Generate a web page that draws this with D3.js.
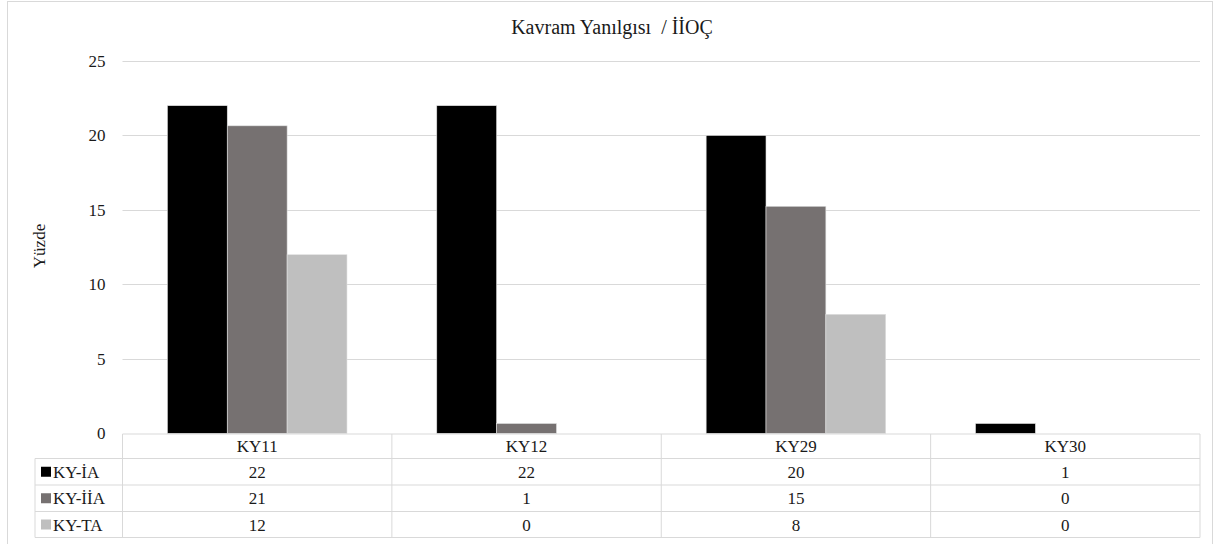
<!DOCTYPE html>
<html><head><meta charset="utf-8">
<script src="https://cdn.jsdelivr.net/npm/d3@7"></script>
<style>body{margin:0;background:#fff}svg{display:block}text{font-family:"Liberation Serif","DejaVu Serif","Noto Serif","Times New Roman",Times,serif;fill:#1a1a1a}</style>
</head><body><svg id="c" width="1218" height="544"></svg>
<script>
const categories = ["KY11","KY12","KY29","KY30"];
const seriesNames = ["KY-İA","KY-İİA","KY-TA"];
const seriesColors = ["#000000","#767171","#BFBFBF"];
const valuesIA  = [22, 22, 20, 0.67];
const valuesIIA = [20.65, 0.67, 15.25, 0];
const valuesTA  = [12, 0, 8, 0];
const tableIA  = ["22","22","20","1"];
const tableIIA = ["21","1","15","0"];
const tableTA  = ["12","0","8","0"];
const yTicks = [0,5,10,15,20,25];
const title = "Kavram Yanılgısı  / İİOÇ";
const yLabel = "Yüzde";

const series = [valuesIA, valuesIIA, valuesTA];
const tableRows = [tableIA, tableIIA, tableTA];

const svg = d3.select("#c");
svg.append("rect").attr("x",7.5).attr("y",1.5).attr("width",1205).attr("height",560)
  .attr("fill","#fff").attr("stroke","#d9d9d9");

const L = 122.5, R = 1200, T = 61, B = 433.5;
const x = d3.scaleBand().domain(categories).range([L,R]);
const y = d3.scaleLinear().domain([0,25]).range([B,T]);
const inner = d3.scaleBand().domain(d3.range(3)).range([0, x.bandwidth()]).paddingOuter(0.75).paddingInner(0);

svg.append("text").attr("x",612).attr("y",34).attr("text-anchor","middle")
  .style("font-size","20px").style("white-space","pre").text(title);

svg.append("g").selectAll("line").data(yTicks.filter(d=>d>0)).join("line")
  .attr("x1",L).attr("x2",R).attr("y1",d=>Math.round(y(d))+0.5).attr("y2",d=>Math.round(y(d))+0.5)
  .attr("stroke","#d9d9d9").attr("stroke-width",1);

const yAxis = d3.axisLeft(y).tickValues(yTicks).tickSize(0).tickPadding(17);
const ga = svg.append("g").attr("transform",`translate(${L},0)`).call(yAxis);
ga.select(".domain").remove();
ga.attr("font-family",null).attr("font-size",null);
ga.selectAll("text").style("font-size","17px").attr("fill","#1a1a1a");

svg.append("text").attr("transform",`translate(45,246) rotate(-90)`).attr("text-anchor","middle")
  .style("font-size","17px").text(yLabel);

series.forEach((vals,si)=>{
  svg.append("g").selectAll("rect").data(categories).join("rect")
    .attr("x",c=>x(c)+inner(si)).attr("width",inner.bandwidth())
    .attr("y",(c,i)=>y(vals[i])).attr("height",(c,i)=>B-y(vals[i]))
    .attr("fill",seriesColors[si]).attr("stroke","#e0e0e0").attr("stroke-width",0.6);
});

const rowH = [434, 458.5, 485, 511.5, 537.5];
const tL = 35;
const g = svg.append("g");
const lc = "#d9d9d9";
g.append("line").attr("x1",L).attr("x2",R).attr("y1",rowH[0]).attr("y2",rowH[0]).attr("stroke",lc);
rowH.slice(1).forEach(h=>g.append("line").attr("x1",tL).attr("x2",R).attr("y1",h).attr("y2",h).attr("stroke",lc));
categories.forEach(c=>g.append("line").attr("x1",x(c)).attr("x2",x(c)).attr("y1",rowH[0]).attr("y2",rowH[4]).attr("stroke",lc));
g.append("line").attr("x1",R).attr("x2",R).attr("y1",rowH[0]).attr("y2",rowH[4]).attr("stroke",lc);
g.append("line").attr("x1",tL).attr("x2",tL).attr("y1",rowH[1]).attr("y2",rowH[4]).attr("stroke",lc);

g.selectAll("text.h").data(categories).join("text").attr("class","h")
  .attr("x",c=>x(c)+x.bandwidth()/2).attr("y",(rowH[0]+rowH[1])/2+6)
  .attr("text-anchor","middle").style("font-size","17px").text(c=>c);

tableRows.forEach((row,ri)=>{
  const cy = (rowH[ri+1]+rowH[ri+2])/2;
  g.append("rect").attr("x",41).attr("y",cy-5).attr("width",10).attr("height",10).attr("fill",seriesColors[ri]);
  g.append("text").attr("x",53).attr("y",cy+6).style("font-size","17px").text(seriesNames[ri]);
  g.selectAll(null).data(categories).join("text")
    .attr("x",c=>x(c)+x.bandwidth()/2).attr("y",cy+6).attr("text-anchor","middle")
    .style("font-size","17px").text((c,i)=>row[i]);
});
</script></body></html>
